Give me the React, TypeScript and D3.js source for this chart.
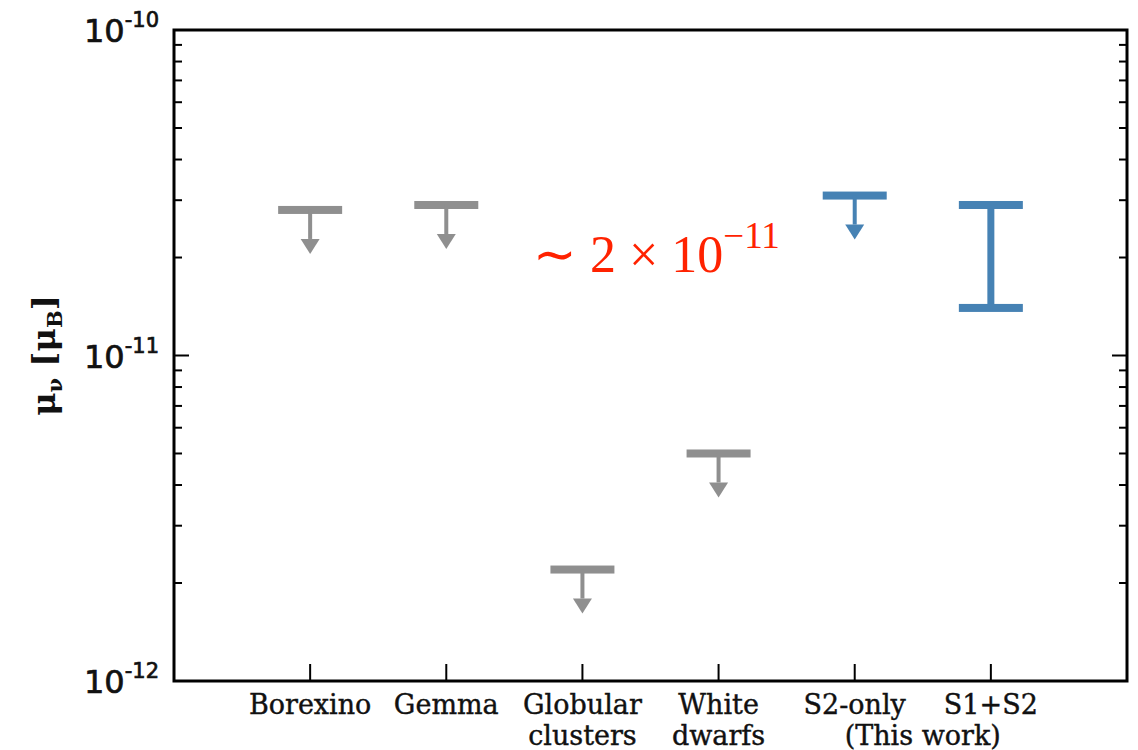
import React from "react";
import * as d3 from "d3";

const categories = ["Borexino", "Gemma", "Globular clusters", "White dwarfs", "S2-only", "S1+S2"];
const categoryLines = [["Borexino"], ["Gemma"], ["Globular", "clusters"], ["White", "dwarfs"], ["S2-only"], ["S1+S2"]];
const limitNames = ["Borexino", "Gemma", "Globular clusters", "White dwarfs", "S2-only"];
const limitValues = [2.8e-11, 2.9e-11, 2.2e-12, 5.0e-12, 3.1e-11];
const limitIsThisWork = [false, false, false, false, true];
const rangeName = "S1+S2";
const rangeLow = 1.4e-11;
const rangeHigh = 2.9e-11;
const yTickExps = [-12, -11, -10];
const annotationBase = "∼ 2 × 10";
const annotationExp = "−11";

const W = 1138, H = 750;
const m = { left: 174, right: 1127, top: 30, bottom: 681 };
const GRAY = "#8f8f8f";
const BLUE = "#4682b4";

export default function App() {
  const x = d3.scaleLinear().domain([0, categories.length + 1]).range([m.left, m.right]);
  const xc = (name: string) => x(categories.indexOf(name) + 1);
  const y = d3.scaleLog().domain([1e-12, 1e-10]).range([m.bottom, m.top]);

  const minor: number[] = [];
  for (let e = -12; e < -10; e++) for (let k = 2; k <= 9; k++) minor.push(k * Math.pow(10, e));

  const capW = 64, capT = 8, arrowLen = 44, headW = 19, headH = 15, stemW = 4;

  return (
    <svg width={W} height={H} style={{ position: "absolute", left: 0, top: 0, background: "#fff" }}>
      <rect x={0} y={0} width={W} height={H} fill="#fff" />
      {minor.map((v, i) => (
        <g key={"mn" + i}>
          <line x1={m.left} x2={m.left + 8} y1={y(v)} y2={y(v)} stroke="#000" strokeWidth={2} />
          <line x1={m.right} x2={m.right - 8} y1={y(v)} y2={y(v)} stroke="#000" strokeWidth={2} />
        </g>
      ))}
      {yTickExps.map((e) => {
        const v = Math.pow(10, e);
        return (
          <g key={"mj" + e}>
            <line x1={m.left} x2={m.left + 15} y1={y(v)} y2={y(v)} stroke="#000" strokeWidth={2} />
            <line x1={m.right} x2={m.right - 15} y1={y(v)} y2={y(v)} stroke="#000" strokeWidth={2} />
            <text x={159} y={y(v) + 12} textAnchor="end" fontFamily="DejaVu Sans" fontSize={32} fill="#111" stroke="#111" strokeWidth={0.7}>
              10<tspan dy={-15} fontSize={21}>{String(e)}</tspan>
            </text>
          </g>
        );
      })}
      {categories.map((c, i) => (
        <g key={"xt" + i}>
          <line x1={xc(c)} x2={xc(c)} y1={m.bottom} y2={m.bottom - 17} stroke="#000" strokeWidth={2} />
          {categoryLines[i].map((ln, j) => (
            <text key={j} x={xc(c)} y={714 + j * 31} textAnchor="middle" fontFamily="DejaVu Serif" fontSize={27} fill="#111" stroke="#111" strokeWidth={0.4}>
              {ln}
            </text>
          ))}
        </g>
      ))}
      <text x={(xc("S2-only") + xc("S1+S2")) / 2} y={745} textAnchor="middle" fontFamily="DejaVu Serif" fontSize={27} fill="#111" stroke="#111" strokeWidth={0.4}>
        (This work)
      </text>
      <rect x={m.left} y={m.top} width={m.right - m.left} height={m.bottom - m.top} fill="none" stroke="#000" strokeWidth={3} />
      <text transform={`translate(55, ${(m.top + m.bottom) / 2}) rotate(-90)`} textAnchor="middle" fontFamily="DejaVu Serif" fontWeight="bold" fontSize={32} fill="#111">
        μ<tspan fontSize={21} dy={7}>ν</tspan>
        <tspan dy={-7}> [μ</tspan>
        <tspan fontSize={21} dy={7}>B</tspan>
        <tspan dy={-7}>]</tspan>
      </text>
      {limitNames.map((n, i) => {
        const cx = xc(n);
        const cy = y(limitValues[i]);
        const col = limitIsThisWork[i] ? BLUE : GRAY;
        const tip = cy + arrowLen;
        return (
          <g key={"lim" + i}>
            <rect x={cx - capW / 2} y={cy - capT / 2} width={capW} height={capT} fill={col} />
            <rect x={cx - stemW / 2} y={cy} width={stemW} height={arrowLen - headH} fill={col} />
            <path d={`M${cx - headW / 2},${tip - headH} L${cx + headW / 2},${tip - headH} L${cx},${tip} Z`} fill={col} />
          </g>
        );
      })}
      {(() => {
        const cx = xc(rangeName);
        const y1 = y(rangeHigh), y2 = y(rangeLow);
        return (
          <g>
            <rect x={cx - 3.5} y={y1} width={7} height={y2 - y1} fill={BLUE} />
            <rect x={cx - capW / 2} y={y1 - capT / 2} width={capW} height={capT} fill={BLUE} />
            <rect x={cx - capW / 2} y={y2 - capT / 2} width={capW} height={capT} fill={BLUE} />
          </g>
        );
      })()}
      <text x={533} y={272} fontFamily="Liberation Serif" fontSize={52} fill="#ff2200">
        {annotationBase}
        <tspan dy={-24} fontSize={37}>{annotationExp}</tspan>
      </text>
    </svg>
  );
}
